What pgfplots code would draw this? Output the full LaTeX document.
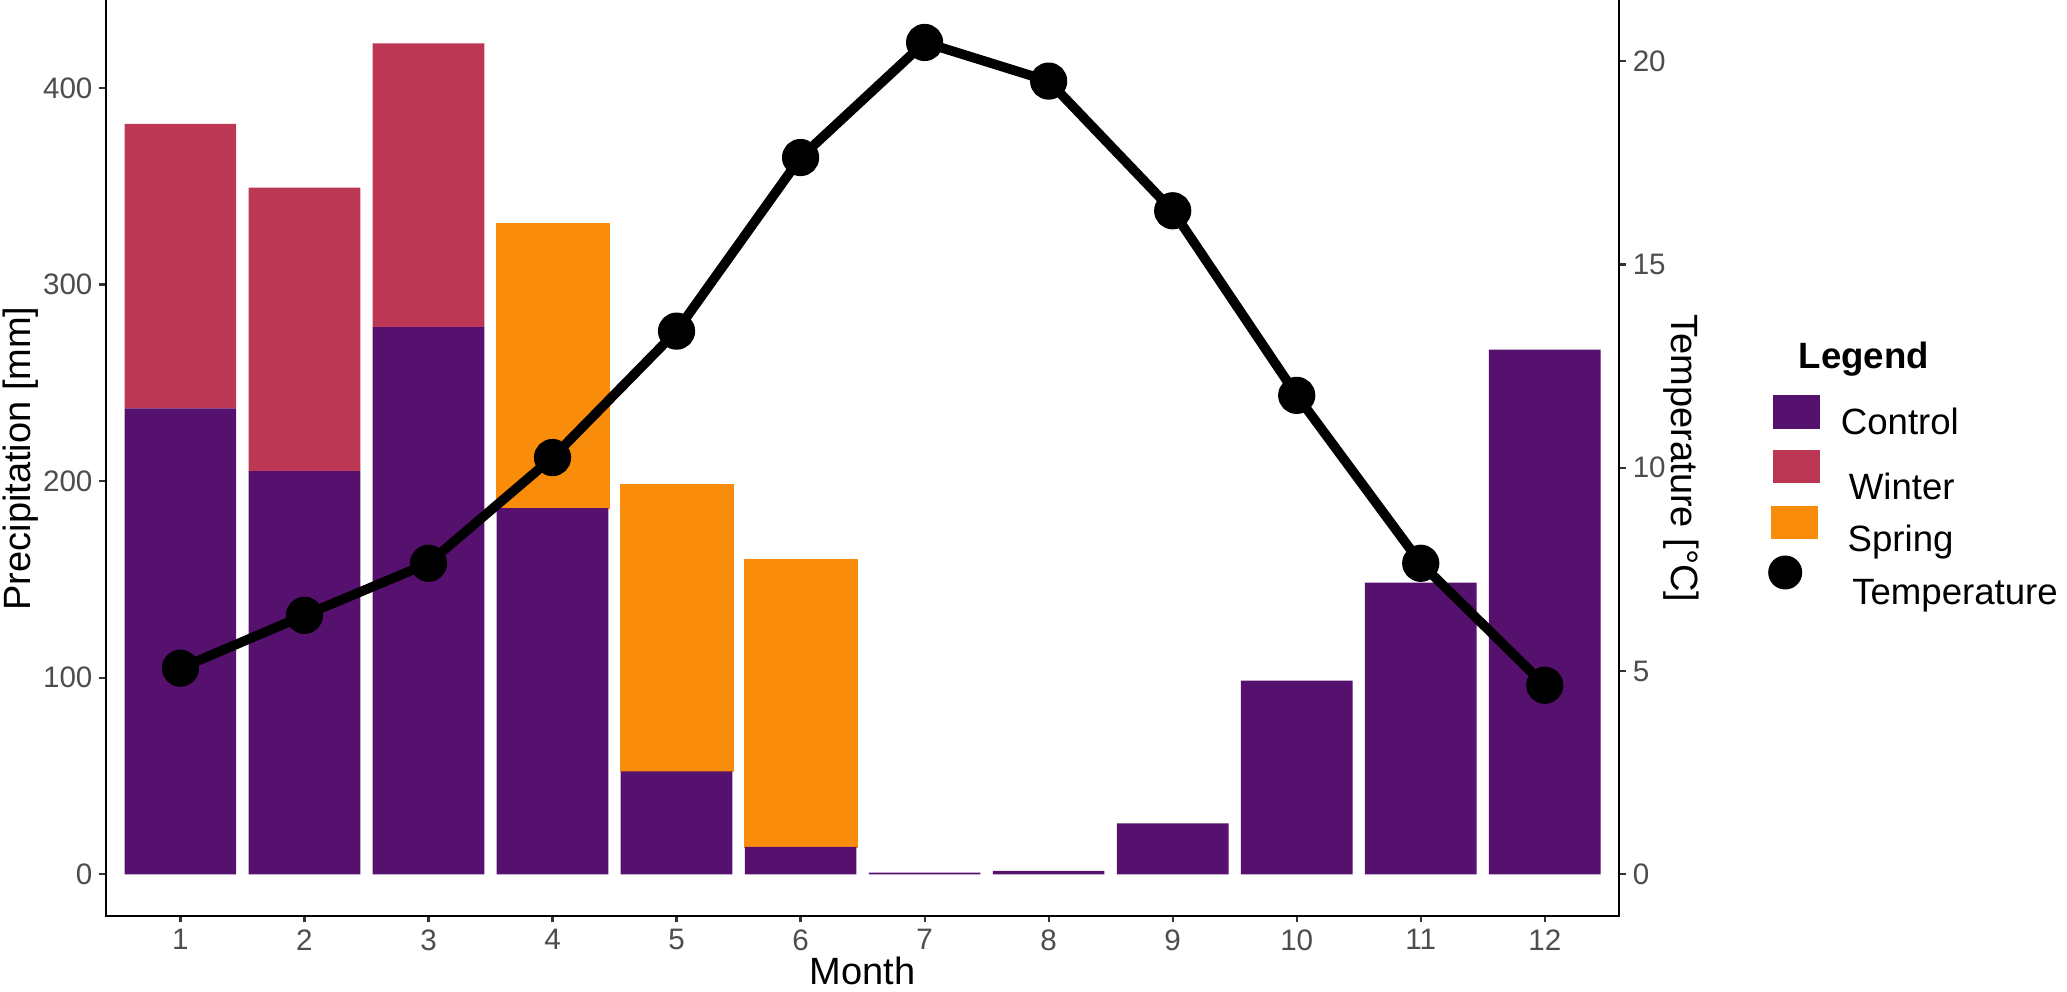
\documentclass[border=0pt]{standalone}
\usepackage{fontspec}
\setmainfont{Liberation Sans}
\usepackage{pgfplots}
\usepackage{pgfplotstable}
\pgfplotsset{compat=1.18}
\usetikzlibrary{calc}

\definecolor{ctrl}{HTML}{56106E}
\definecolor{wint}{HTML}{BB3754}
\definecolor{spri}{HTML}{F98C0A}
\definecolor{ticktext}{HTML}{4D4D4D}
\definecolor{tickline}{HTML}{333333}

\pgfplotstableread{
month control spring winter
1  237.0 0     144.7
2  205.1 0     144.2
3  278.3 0     144.4
4  186.3 144.4 0
5  52.4  145.5 0
6  14.0  145.7 0
7  0.8   0     0
8  1.8   0     0
9  25.9  0     0
10 98.5  0     0
11 148.4 0     0
12 266.9 0     0
}\precip

\pgfplotstableread{
month temp
1  5.07
2  6.37
3  7.65
4  10.25
5  13.36
6  17.63
7  20.46
8  19.51
9  16.32
10 11.78
11 7.65
12 4.65
}\temps

\newcommand{\labfont}{\fontsize{19}{22}\selectfont}

\pgfplotsset{
  common/.style={
    scale only axis, width=756.6pt, height=457.4pt,
    xmin=0.4, xmax=12.6,
    tick align=outside, major tick length=3.25pt,
    axis line style={line width=1.1pt, black, line cap=rect},
    tick style={line width=1.1pt, color=tickline},
    tick label style={font=\fontsize{14.8}{17}\selectfont, color=ticktext},
    /pgf/number format/assume math mode=true,
  }
}

\begin{document}
\begin{tikzpicture}
\begin{axis}[
  common, name=main,
  ymin=-21.15, ymax=444.15,
  axis x line*=bottom, axis y line*=left,
  xtick={1,2,3,4,5,6,7,8,9,10,11,12},
  ytick={0,100,200,300,400},
  ybar stacked, bar width=0.9,
  xlabel={Month}, ylabel={Precipitation [mm]},
  every axis x label/.style={at={(axis description cs:0.5,-0.0752)}, anchor=base, font=\labfont, text=black},
  every axis y label/.style={at={(axis description cs:-0.0502,0.5)}, anchor=base, rotate=90, font=\labfont, text=black},
]
\addplot[fill=ctrl, draw=none] table[x=month, y=control] {\precip};
\addplot[fill=spri, draw=spri, line width=1.2pt] table[x=month, y=spring] {\precip};
\addplot[fill=wint, draw=none] table[x=month, y=winter] {\precip};
\end{axis}

\begin{axis}[
  common,
  ymin=-1.0227, ymax=21.4773,
  axis x line=none, axis y line*=right,
  ytick={0,5,10,15,20},
  ylabel={Temperature [°C]},
  every axis y label/.style={at={(axis description cs:1.03483,0.5)}, anchor=base, rotate=-90, font=\labfont, text=black},
  legend cell align=left,
  every axis legend/.style={at={(axis description cs:1.10157,0.61653)}, anchor=north west,
     draw=none, fill=none, inner sep=0pt, outer sep=0pt,
     cells={anchor=west},
     nodes={inner sep=0pt, font=\fontsize{18.3}{22}\selectfont, text depth={}}},
]
\addlegendimage{legend image code/.code={\path[draw=none,fill=none] (0pt,-8.2pt) rectangle (0pt,8.2pt);}}
\addlegendentry{\raisebox{0pt}[0pt][0pt]{\hspace*{-10.5pt}\textbf{Legend}}}
\addlegendimage{legend image code/.code={\path[draw=none,fill=none] (0pt,-13.65pt) rectangle (23.5pt,13.65pt); \fill[ctrl,draw=none,overlay] (0pt,-8.5pt) rectangle (23.5pt,8.5pt);}}
\addlegendentry{\raisebox{-11.5pt}[0pt][0pt]{\hspace*{10.5pt}Control}}
\addlegendimage{legend image code/.code={\path[draw=none,fill=none] (0pt,-13.7pt) rectangle (23.5pt,13.7pt); \fill[wint,draw=none,overlay] (0pt,-8.3pt) rectangle (23.5pt,8.3pt);}}
\addlegendentry{\raisebox{-16.65pt}[0pt][0pt]{\hspace*{14.5pt}Winter}}
\addlegendimage{legend image code/.code={\path[draw=none,fill=none] (0pt,-14.1pt) rectangle (23.5pt,14.1pt); \fill[spri,draw=none,overlay] (-1.15pt,-8.3pt) rectangle (22.35pt,8.3pt);}}
\addlegendentry{\raisebox{-14.7pt}[0pt][0pt]{\hspace*{13.9pt}Spring}}
\addplot[black, line width=4.8pt, line join=round, mark=*, mark size=6.9pt,
  mark options={draw=none, fill=black},
  legend image code/.code={\path[draw=none,fill=none] (0pt,-11pt) rectangle (23.5pt,11pt); \fill[black,draw=none,overlay] (6.15pt,0pt) circle (8.5pt);}]
  table[x=month, y=temp] {\temps};
\addlegendentry{\raisebox{-16.25pt}[0pt][0pt]{\hspace*{16.2pt}Temperature}}
\end{axis}

\pgfresetboundingbox
\path[use as bounding box] ($(main.south west)+(-53pt,-37.55pt)$) rectangle ($(main.north east)+(223.9pt,0.55pt)$);
\end{tikzpicture}
\end{document}
